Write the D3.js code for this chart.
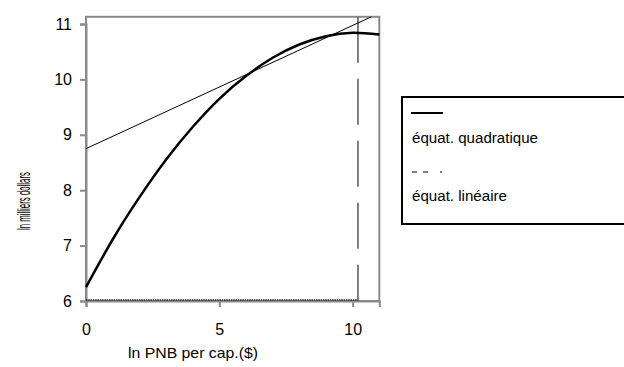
<!DOCTYPE html>
<html>
<head>
<meta charset="utf-8">
<script src="https://cdn.jsdelivr.net/npm/d3@7"></script>
<style>
  body { margin: 0; background: #fff; }
  svg { display: block; font-family: "Liberation Sans", Arial, sans-serif; }
</style>
</head>
<body>
<svg id="chart" width="624" height="367"></svg>
<script>
// values
const quadX = [0, 1, 2, 3, 4, 5, 6, 7, 8, 9, 10, 11];
const quadY = [6.25, 7.11, 7.87, 8.55, 9.14, 9.65, 10.06, 10.39, 10.63, 10.78, 10.84, 10.81];
const linX = [0, 10.7];
const linY = [8.75, 11.13];
const peakX = 10.2;
const xTicks = [0, 5, 10];
const yTicks = [6, 7, 8, 9, 10, 11];
const legendItems = ["équat. quadratique", "équat. linéaire"];

const GRAY = "#8a8a8a";

const svg = d3.select("#chart");
const x = d3.scaleLinear().domain([0, 11]).range([86, 379.3]);
const y = d3.scaleLinear().domain([6, 11]).range([301, 24]);
const yTop = 11.13;

// frame
svg.append("rect")
    .attr("x", x(0)).attr("y", y(yTop))
    .attr("width", x(11) - x(0)).attr("height", y(6) - y(yTop))
    .attr("fill", "none").attr("stroke", GRAY).attr("stroke-width", 2);

// axes
const yAxis = svg.append("g")
    .attr("transform", `translate(${x(0)},0)`)
    .call(d3.axisLeft(y).tickValues(yTicks).tickFormat(d3.format("d")).tickSize(6).tickPadding(8));
const xAxis = svg.append("g")
    .attr("transform", `translate(0,${y(6)})`)
    .call(d3.axisBottom(x).tickValues(xTicks).tickFormat(d3.format("d")).tickSize(6).tickPadding(17));
[yAxis, xAxis].forEach(g => {
    g.attr("font-size", null).attr("font-family", null);
    g.select(".domain").attr("stroke", GRAY).attr("stroke-width", 2);
    g.selectAll(".tick line").attr("stroke", GRAY).attr("stroke-width", 2);
    g.selectAll(".tick text").attr("fill", "#000").style("font-size", "16px");
});

// horizontal base line of the peak marker
svg.append("line")
    .attr("x1", x(0)).attr("x2", x(peakX))
    .attr("y1", y(6) - 1).attr("y2", y(6) - 1)
    .attr("stroke", "#222").attr("stroke-width", 1.5)
    .attr("stroke-dasharray", "1.5,0.8");

// vertical dashed line at the peak
svg.append("line")
    .attr("x1", x(peakX)).attr("x2", x(peakX))
    .attr("y1", y(yTop)).attr("y2", y(6))
    .attr("stroke", "#555").attr("stroke-width", 1.5)
    .attr("stroke-dasharray", "46,16");

// linear
const lin = linX.map((v, i) => [v, linY[i]]);
svg.append("path")
    .attr("d", d3.line().x(d => x(d[0])).y(d => y(d[1]))(lin))
    .attr("fill", "none").attr("stroke", "#000").attr("stroke-width", 1);

// quadratic
const quad = quadX.map((v, i) => [v, quadY[i]]);
svg.append("path")
    .attr("d", d3.line().curve(d3.curveNatural).x(d => x(d[0])).y(d => y(d[1]))(quad))
    .attr("fill", "none").attr("stroke", "#000").attr("stroke-width", 2.5);

// axis titles
svg.append("text")
    .attr("x", 193).attr("y", 358)
    .attr("text-anchor", "middle").style("font-size", "15px")
    .attr("textLength", 130).attr("lengthAdjust", "spacingAndGlyphs")
    .text("ln PNB per cap.($)");
svg.append("text")
    .attr("transform", "translate(30,201) rotate(-90)")
    .attr("text-anchor", "middle").style("font-size", "18px")
    .attr("textLength", 58).attr("lengthAdjust", "spacingAndGlyphs")
    .text("ln milliers dollars");

// legend
const lg = svg.append("g");
lg.append("rect")
    .attr("x", 402).attr("y", 97).attr("width", 240).attr("height", 127)
    .attr("fill", "#fff").attr("stroke", "#000").attr("stroke-width", 2);
lg.append("line")
    .attr("x1", 411).attr("x2", 443).attr("y1", 113).attr("y2", 113)
    .attr("stroke", "#000").attr("stroke-width", 2);
lg.append("line")
    .attr("x1", 412).attr("x2", 442).attr("y1", 172).attr("y2", 172)
    .attr("stroke", "#000").attr("stroke-width", 1)
    .attr("stroke-dasharray", "5,6,5,12,2,40");
lg.selectAll("text.item")
    .data(legendItems)
    .enter().append("text")
    .attr("class", "item")
    .attr("x", 412)
    .attr("y", (d, i) => 143 + i * 58)
    .style("font-size", "14px")
    .attr("textLength", (d, i) => i === 0 ? 126 : 95)
    .attr("lengthAdjust", "spacingAndGlyphs")
    .text(d => d);
</script>
</body>
</html>
